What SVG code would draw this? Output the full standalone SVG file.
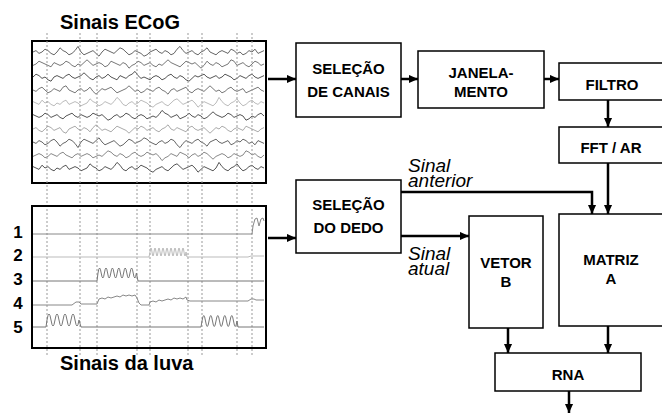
<svg xmlns="http://www.w3.org/2000/svg" xmlns:xlink="http://www.w3.org/1999/xlink" width="662" height="414" viewBox="0 0 662 414">
<style>
.box{fill:#fff;stroke:#000;stroke-width:1.5}
.pbox{fill:none;stroke:#000;stroke-width:2}
.bt{font-family:"Liberation Sans",Arial,sans-serif;font-weight:bold;font-size:15px;text-anchor:middle;fill:#000}
.ttl{font-family:"Liberation Sans",Arial,sans-serif;font-weight:bold;font-size:20px;fill:#000}
.num{font-family:"Liberation Sans",Arial,sans-serif;font-weight:bold;font-size:17px;text-anchor:middle;fill:#000}
.it{font-family:"Liberation Sans",Arial,sans-serif;font-style:italic;font-size:19px;fill:#000}
.dash{stroke:#999;stroke-width:1;stroke-dasharray:2 2;fill:none}
.tr{fill:none;stroke-width:1;stroke-linejoin:round}
.nz{vector-effect:non-scaling-stroke}
.con{fill:none;stroke:#000;stroke-width:2.5}
</style>
<defs>
<marker id="ah" viewBox="0 0 10 10" refX="10" refY="5" markerWidth="9" markerHeight="9" markerUnits="userSpaceOnUse" orient="auto"><path d="M0,0.5 L10,5 L0,9.5 z" fill="#000"/></marker>
<polyline id="nA" class="nz" points="0,0 3,-1 6,1 9,0 12,-2 15,-1 18,1 21,2 24,0 27,-3 30,-1 33,0 36,2 39,1 42,-1 45,-4 48,0 51,2 54,1 57,0 60,-1 63,1 66,3 69,0 72,-2 75,-1 78,0 81,1 84,-1 87,-3 90,-2 93,0 96,2 99,1 102,-1 105,0 108,1 111,3 114,2 117,0 120,-1 123,-2 126,0 129,1 132,-1 135,0 138,2 141,1 144,-2 147,-4 150,-1 153,1 156,0 159,-1 162,1 165,2 168,0 171,-1 174,-3 177,0 180,1 183,2 186,0 189,-1 192,0 195,1 198,-2 201,-1 204,1 207,0 210,2 213,1 216,-1 219,0 222,-2 225,1 228,0 231,-1"/>
<polyline id="nB" class="nz" points="0,0 3,1 6,-1 9,-2 12,0 15,2 18,1 21,-1 24,0 27,1 30,-2 33,-3 36,0 39,1 42,2 45,0 48,-1 51,1 54,0 57,-2 60,1 63,3 66,1 69,-1 72,0 75,-1 78,-2 81,0 84,2 87,1 90,0 93,-1 96,-3 99,-1 102,1 105,0 108,2 111,1 114,-1 117,0 120,1 123,-1 126,-2 129,0 132,1 135,3 138,0 141,-1 144,1 147,0 150,-1 153,-2 156,1 159,2 162,0 165,-1 168,0 171,1 174,-1 177,-3 180,-1 183,1 186,0 189,2 192,1 195,-1 198,-2 201,0 204,1 207,0 210,-1 213,2 216,1 219,0 222,-1 225,-2 228,0 231,1"/>
<polyline id="nC" class="nz" points="0,0 3,-2 6,-1 9,1 12,0 15,2 18,3 21,0 24,-1 27,0 30,1 33,-1 36,-2 39,0 42,1 45,0 48,-1 51,-3 54,-1 57,1 60,2 63,0 66,-1 69,1 72,0 75,-2 78,0 81,1 84,2 87,-1 90,0 93,1 96,-1 99,-2 102,-4 105,-1 108,1 111,0 114,1 117,2 120,0 123,-1 126,0 129,2 132,1 135,-1 138,-2 141,0 144,1 147,-1 150,0 153,2 156,3 159,1 162,-1 165,0 168,-1 171,-2 174,0 177,1 180,0 183,-1 186,1 189,0 192,-2 195,-1 198,0 201,2 204,1 207,-1 210,0 213,1 216,-1 219,-2 222,0 225,1 228,0 231,-1"/>
</defs>
<rect width="662" height="414" fill="#fff"/>

<g id="ecog">
<text class="ttl" x="60" y="29">Sinais ECoG</text>
<g class="tr">
<use xlink:href="#nA" transform="translate(33,52) scale(1,1.4)" stroke="#666"/>
<use xlink:href="#nB" transform="translate(264,64) scale(-1,1.4)" stroke="#777"/>
<use xlink:href="#nC" transform="translate(33,77) scale(1,1.4)" stroke="#555"/>
<use xlink:href="#nB" transform="translate(33,90) scale(1,1.4)" stroke="#777"/>
<use xlink:href="#nA" transform="translate(264,103) scale(-1,1.4)" stroke="#bbb"/>
<use xlink:href="#nC" transform="translate(264,116) scale(-1,1.4)" stroke="#555"/>
<use xlink:href="#nB" transform="translate(33,129) scale(1,-1.4)" stroke="#aaa"/>
<use xlink:href="#nA" transform="translate(33,142) scale(1,-1.4)" stroke="#666"/>
<use xlink:href="#nC" transform="translate(264,155) scale(-1,-1.4)" stroke="#888"/>
<use xlink:href="#nA" transform="translate(264,168) scale(-1,1.4)" stroke="#555"/>
</g>
<rect class="pbox" x="32" y="41" width="234" height="142"/>
</g>

<g id="dashes">
<path class="dash" d="M47,33 V355 M80,33 V355 M97,33 V355 M137,33 V355 M150,33 V355 M188,33 V355 M202,33 V355 M237,33 V355 M252,33 V355"/>
</g>

<g id="luva">
<g class="tr">
<path stroke="#888" d="M33,234 L252,234 L253,226 L255,219 L257,218 L259,226 L261,219 L263,218 L264,221"/>
<path stroke="#bbb" d="M33,257 L149,257 L150,252 q1,-8 2,0 t2,0 t2,0 t2,0 t2,0 t2,0 t2,0 t2,0 t2,0 t2,0 t2,0 t2,0 t2,0 t2,0 t2,0 t2,0 t2,0 t2,0 L187,257 L248,257 L251,256 L264,256"/>
<path stroke="#777" d="M33,281 L97,281 L98,273 q1.6,-10 3.2,0 t3.2,0 t3.2,0 t3.2,0 t3.2,0 t3.2,0 t3.2,0 t3.2,0 t3.2,0 t3.2,0 t3.2,0 t3.2,0 L138,281 L264,281"/>
<path stroke="#888" d="M33,305 L72,305 L76,302 L79,302 L81,304 L97,304 L99,299 L102,298 L105,299 L108,297 L111,298 L114,297 L117,296 L120,297 L123,295 L126,296 L129,295 L132,296 L135,295 L137,298 L139,303 L141,305 L149,305 L150,302 L153,301 L156,302 L159,300 L162,301 L165,300 L168,299 L171,300 L174,298 L177,299 L180,298 L183,299 L186,297 L187,300 L190,301 L248,301 L251,299 L254,299 L256,300 L264,300"/>
<path stroke="#777" d="M33,327 L46,327 L47,320 q2,-12 4,0 t4,0 t4,0 t4,0 t4,0 t4,0 t4,0 t4,0 L81,327 L201,327 L202,321 q1.75,-11 3.5,0 t3.5,0 t3.5,0 t3.5,0 t3.5,0 t3.5,0 t3.5,0 t3.5,0 t3.5,0 t3.5,0 L238,327 L264,327"/>
</g>
<rect class="pbox" x="32" y="206" width="234" height="142"/>
<text class="num" x="18" y="238">1</text>
<text class="num" x="18" y="261">2</text>
<text class="num" x="18" y="285">3</text>
<text class="num" x="18" y="309">4</text>
<text class="num" x="18" y="333">5</text>
<text class="ttl" x="60" y="370">Sinais da luva</text>
</g>

<g id="connectors">
<path class="con" marker-end="url(#ah)" d="M268,79 H296"/>
<path class="con" marker-end="url(#ah)" d="M401,79 H418"/>
<path class="con" marker-end="url(#ah)" d="M544,79 H559"/>
<path class="con" marker-end="url(#ah)" d="M608,100 V127"/>
<path class="con" marker-end="url(#ah)" d="M608,163 V214"/>
<path class="con" marker-end="url(#ah)" d="M401,192 H592 V214"/>
<path class="con" marker-end="url(#ah)" d="M268,238 H296"/>
<path class="con" marker-end="url(#ah)" d="M401,236 H469"/>
<path class="con" marker-end="url(#ah)" d="M508,328 V353"/>
<path class="con" marker-end="url(#ah)" d="M608,326 V353"/>
<path class="con" marker-end="url(#ah)" d="M569,391 V413"/>
<text class="it"><tspan x="408" y="172">Sinal</tspan><tspan x="408" y="187">anterior</tspan></text>
<text class="it"><tspan x="408" y="260">Sinal</tspan><tspan x="408" y="275">atual</tspan></text>
</g>

<g id="selecao-canais">
<rect class="box" x="296" y="43" width="105" height="74"/>
<text class="bt" x="348.5" y="74">SELEÇÃO</text>
<text class="bt" x="348.5" y="97">DE CANAIS</text>
</g>
<g id="janelamento">
<rect class="box" x="418" y="51" width="126" height="57"/>
<text class="bt" x="481" y="78">JANELA-</text>
<text class="bt" x="481" y="97">MENTO</text>
</g>
<g id="filtro">
<rect class="box" x="559" y="63" width="106" height="37"/>
<text class="bt" x="612" y="90">FILTRO</text>
</g>
<g id="fft">
<rect class="box" x="559" y="127" width="106" height="36"/>
<text class="bt" x="611" y="153">FFT / AR</text>
</g>
<g id="selecao-dedo">
<rect class="box" x="296" y="180" width="105" height="73"/>
<text class="bt" x="348.5" y="210">SELEÇÃO</text>
<text class="bt" x="348.5" y="233">DO DEDO</text>
</g>
<g id="vetor">
<rect class="box" x="469" y="216" width="74" height="112"/>
<text class="bt" x="506" y="268">VETOR</text>
<text class="bt" x="506" y="287">B</text>
</g>
<g id="matriz">
<rect class="box" x="559" y="214" width="106" height="112"/>
<text class="bt" x="611" y="265">MATRIZ</text>
<text class="bt" x="611" y="284">A</text>
</g>
<g id="rna">
<rect class="box" x="495" y="353" width="146" height="38"/>
<text class="bt" x="568" y="380">RNA</text>
</g>
</svg>
